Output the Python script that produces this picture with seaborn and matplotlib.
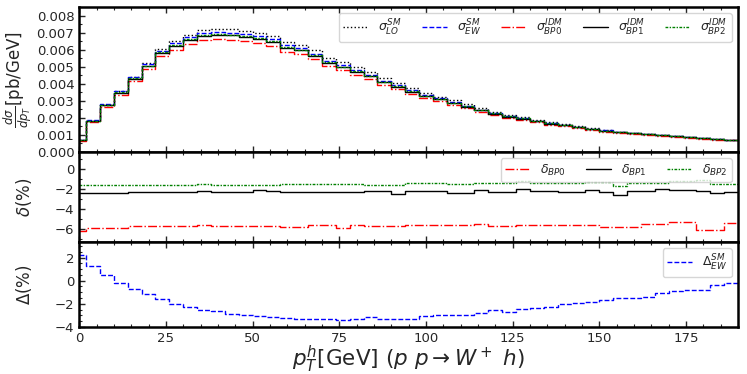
import numpy as np
import pandas as pd
import seaborn as sns
import matplotlib
matplotlib.use("Agg")
import matplotlib.pyplot as plt
from matplotlib.ticker import MultipleLocator

# bin edges in GeV (first and last bins are half-width)
edges = [0, 2] + [6 + 4 * k for k in range(46)] + [190]

sigma_LO = [0.000700, 0.00184, 0.00278, 0.00356, 0.00442, 0.00520, 0.00604, 0.00650,
            0.00688, 0.00714, 0.00722, 0.00720, 0.00712, 0.00700, 0.00683, 0.00646,
            0.00630, 0.00597, 0.00553, 0.00526, 0.00497, 0.00468, 0.00432, 0.00405,
            0.00374, 0.00344, 0.00325, 0.00303, 0.00280, 0.00256, 0.00237, 0.00217,
            0.00204, 0.00188, 0.00174, 0.00163, 0.00151, 0.00139, 0.00129, 0.00120,
            0.00114, 0.00108, 0.00102, 0.00095, 0.00089, 0.00084, 0.00077, 0.00072]

sigma_EW = [0.0007158, 0.0018628, 0.0027945, 0.0035529, 0.0043895, 0.0051418, 0.0059464, 0.0063674,
            0.0067218, 0.0069572, 0.0070294, 0.0069948, 0.0069071, 0.0067865, 0.0066162, 0.0062539,
            0.0060921, 0.0057730, 0.0053453, 0.0050827, 0.0048060, 0.0045321, 0.0041774, 0.0039155,
            0.0036158, 0.0033334, 0.0031528, 0.0029412, 0.0027180, 0.0024886, 0.0023093, 0.0021121,
            0.0019896, 0.0018362, 0.0017005, 0.0015967, 0.0014809, 0.0013644, 0.0012688, 0.0011821,
            0.0011234, 0.0010649, 0.0010092, 0.0009415, 0.0008831, 0.0008335, 0.0007674, 0.0007186]

sigma_BP0 = [0.0006714, 0.0017523, 0.0026288, 0.0033422, 0.0041406, 0.0048503, 0.0056092, 0.0060064,
             0.0063407, 0.0065676, 0.0066301, 0.0065975, 0.0065148, 0.0064010, 0.0062404, 0.0058924,
             0.0057400, 0.0054497, 0.0050460, 0.0047843, 0.0045383, 0.0042760, 0.0039393, 0.0036923,
             0.0034133, 0.0031467, 0.0029762, 0.0027765, 0.0025658, 0.0023510, 0.0021777, 0.0019917,
             0.0018782, 0.0017334, 0.0016053, 0.0015073, 0.0013980, 0.0012880, 0.0011948, 0.0011132,
             0.0010579, 0.0010063, 0.0009537, 0.0008913, 0.0008360, 0.0007829, 0.0007208, 0.0006796]

sigma_BP1 = [0.0006988, 0.0018187, 0.0027283, 0.0034687, 0.0042894, 0.0050246, 0.0058108, 0.0062222,
             0.0065685, 0.0068041, 0.0068677, 0.0068374, 0.0067517, 0.0066440, 0.0064740, 0.0061132,
             0.0059550, 0.0056431, 0.0052250, 0.0049683, 0.0046979, 0.0044324, 0.0040855, 0.0038204,
             0.0035363, 0.0032601, 0.0030834, 0.0028715, 0.0026536, 0.0024381, 0.0022569, 0.0020642,
             0.0019512, 0.0017958, 0.0016631, 0.0015605, 0.0014473, 0.0013367, 0.0012400, 0.0011514,
             0.0010990, 0.0010418, 0.0009897, 0.0009224, 0.0008652, 0.0008157, 0.0007492, 0.0007023]

sigma_BP2 = [0.0007043, 0.0018330, 0.0027498, 0.0034961, 0.0043206, 0.0050611, 0.0058530, 0.0062674,
             0.0066163, 0.0068563, 0.0069204, 0.0068864, 0.0068000, 0.0066813, 0.0065136, 0.0061601,
             0.0060007, 0.0056864, 0.0052651, 0.0050065, 0.0047339, 0.0044628, 0.0041135, 0.0038556,
             0.0035663, 0.0032877, 0.0031096, 0.0028971, 0.0026772, 0.0024545, 0.0022777, 0.0020832,
             0.0019663, 0.0018110, 0.0016772, 0.0015748, 0.0014606, 0.0013471, 0.0012527, 0.0011624,
             0.0011085, 0.0010507, 0.0009958, 0.0009302, 0.0008725, 0.0008249, 0.0007559, 0.0007078]

delta_BP0 = [-6.20, -5.93, -5.93, -5.93, -5.67, -5.67, -5.67, -5.67, -5.67, -5.60, -5.68, -5.68,
             -5.68, -5.68, -5.68, -5.78, -5.78, -5.60, -5.60, -5.87, -5.57, -5.65, -5.70, -5.70,
             -5.60, -5.60, -5.60, -5.60, -5.60, -5.53, -5.70, -5.70, -5.60, -5.60, -5.60, -5.60,
             -5.60, -5.60, -5.83, -5.83, -5.83, -5.50, -5.50, -5.33, -5.33, -6.07, -6.07, -5.43]

delta_BP1 = [-2.37, -2.37, -2.37, -2.37, -2.28, -2.28, -2.28, -2.28, -2.28, -2.20, -2.30, -2.25,
             -2.25, -2.10, -2.15, -2.25, -2.25, -2.25, -2.25, -2.25, -2.25, -2.20, -2.20, -2.43,
             -2.20, -2.20, -2.20, -2.37, -2.37, -2.03, -2.27, -2.27, -1.93, -2.20, -2.20, -2.27,
             -2.27, -2.03, -2.27, -2.60, -2.17, -2.17, -1.93, -2.03, -2.03, -2.13, -2.37, -2.27]

delta_BP2 = [-1.60, -1.60, -1.60, -1.60, -1.57, -1.57, -1.57, -1.57, -1.57, -1.45, -1.55, -1.55,
             -1.55, -1.55, -1.55, -1.50, -1.50, -1.50, -1.50, -1.50, -1.50, -1.53, -1.53, -1.53,
             -1.37, -1.37, -1.37, -1.50, -1.50, -1.37, -1.37, -1.37, -1.17, -1.37, -1.37, -1.37,
             -1.37, -1.27, -1.27, -1.67, -1.33, -1.33, -1.33, -1.20, -1.20, -1.03, -1.50, -1.50]

Delta_EW = [2.26, 1.24, 0.52, -0.20, -0.69, -1.12, -1.55, -2.04, -2.30, -2.56, -2.64, -2.85,
            -2.99, -3.05, -3.13, -3.19, -3.30, -3.30, -3.34, -3.37, -3.30, -3.16, -3.30, -3.32,
            -3.32, -3.10, -2.99, -2.93, -2.93, -2.79, -2.56, -2.67, -2.47, -2.33, -2.27, -2.04,
            -1.93, -1.84, -1.64, -1.49, -1.46, -1.40, -1.06, -0.89, -0.77, -0.77, -0.34, -0.20]

sns.set_style("ticks")
plt.rcParams["font.family"] = ["DejaVu Sans"]
plt.rcParams["mathtext.fontset"] = "dejavusans"

fig = plt.figure(figsize=(7.47, 3.74), dpi=100)
gs = fig.add_gridspec(3, 1, height_ratios=[145, 90, 85], hspace=0,
                      left=0.106, right=0.988, top=0.981, bottom=0.126)
ax1 = fig.add_subplot(gs[0])
ax2 = fig.add_subplot(gs[1], sharex=ax1)
ax3 = fig.add_subplot(gs[2], sharex=ax1)

x = np.array(edges, dtype=float)


def stairs(ax, vals, color, ls, label, lw=1.0):
    y = np.append(np.array(vals, dtype=float), vals[-1])
    df = pd.DataFrame({"x": x, "y": y})
    sns.lineplot(data=df, x="x", y="y", ax=ax, color=color, linestyle=ls,
                 drawstyle="steps-post", label=label, linewidth=lw)


stairs(ax1, sigma_LO, "black", ":", r"$\sigma^{SM}_{LO}$")
stairs(ax1, sigma_EW, "blue", (0, (3.5, 1.5)), r"$\sigma^{SM}_{EW}$")
stairs(ax1, sigma_BP0, "red", "-.", r"$\sigma^{IDM}_{BP0}$")
stairs(ax1, sigma_BP1, "black", "-", r"$\sigma^{IDM}_{BP1}$")
stairs(ax1, sigma_BP2, "green", (0, (2, 1, 1, 1)), r"$\sigma^{IDM}_{BP2}$")

stairs(ax2, delta_BP0, "red", "-.", r"$\delta_{BP0}$")
stairs(ax2, delta_BP1, "black", "-", r"$\delta_{BP1}$")
stairs(ax2, delta_BP2, "green", (0, (2, 1, 1, 1)), r"$\delta_{BP2}$")

stairs(ax3, Delta_EW, "blue", (0, (3.5, 1.5)), r"$\Delta^{SM}_{EW}$")

ax1.set_xlim(0, 190)
ax1.set_ylim(0, 0.0085)
ax2.set_ylim(-7.3, 1.75)
ax3.set_ylim(-4, 3.35)

ax1.yaxis.set_major_locator(MultipleLocator(0.001))
ax1.yaxis.set_minor_locator(MultipleLocator(0.0005))
ax2.yaxis.set_major_locator(MultipleLocator(2))
ax2.yaxis.set_minor_locator(MultipleLocator(1))
ax3.yaxis.set_major_locator(MultipleLocator(2))
ax3.yaxis.set_minor_locator(MultipleLocator(0.5))
ax3.xaxis.set_major_locator(MultipleLocator(25))
ax3.xaxis.set_minor_locator(MultipleLocator(5))

for ax in (ax1, ax2, ax3):
    ax.tick_params(which="both", direction="in", top=True, bottom=True,
                   left=True, right=False, labelsize=9.5)
    ax.tick_params(which="major", length=4, width=1)
    ax.tick_params(which="minor", length=2, width=0.8)
    for sp in ax.spines.values():
        sp.set_linewidth(1.8)
        sp.set_color("black")
    ax.set_xlabel("")

ax1.tick_params(labelbottom=False)
ax2.tick_params(labelbottom=False)

ax1.set_ylabel(r"$\frac{d\sigma}{dp_T}$[pb/GeV]", fontsize=12, labelpad=2)
ax2.set_ylabel(r"$\delta(\%)$", fontsize=12, labelpad=2)
ax3.set_ylabel(r"$\Delta(\%)$", fontsize=12, labelpad=2)
ax3.set_xlabel(r"$p_T^h$[GeV] $(p\ p \rightarrow W^+\ h)$", fontsize=15.5, labelpad=-1)

leg_kw = dict(fontsize=9, handlelength=2.0, handletextpad=0.8,
              columnspacing=1.6, borderpad=0.35, framealpha=0.8, loc="upper right")
ax1.legend(ncol=5, **leg_kw)
ax2.legend(ncol=3, **leg_kw)
ax3.legend(ncol=1, **leg_kw)

fig.align_ylabels([ax1, ax2, ax3])
fig.savefig("out.png", dpi=100)
